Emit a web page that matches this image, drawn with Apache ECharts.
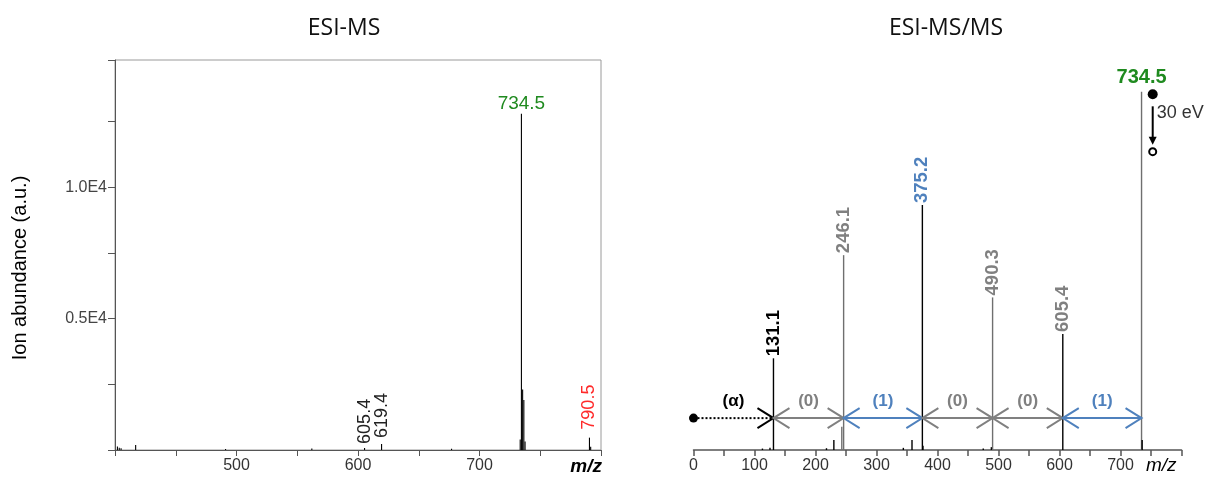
<!DOCTYPE html>
<html>
<head>
<meta charset="utf-8">
<script src="https://cdn.jsdelivr.net/npm/echarts@6/dist/echarts.min.js"></script>
<style>
html,body{margin:0;padding:0;background:#fff;}
#chart{width:1208px;height:481px;}
</style>
</head>
<body>
<div id="chart"></div>
<script>
// ---------- DATA ----------
// ESI-MS (left)
const MS_MZ  = [402, 403.5, 405, 417, 491, 562, 605.4, 619.4, 677, 733.5, 734.5, 735.5, 736.5, 737.5, 790.5, 791.5];
const MS_INT = [130, 90, 70, 190, 40, 60, 80, 230, 50, 400, 12800, 2300, 1900, 320, 470, 120];
const MS_LABEL_MZ   = [605.4, 619.4, 734.5, 790.5];
const MS_LABEL_TEXT = ['605.4', '619.4', '734.5', '790.5'];
const MS_X_TICKS = [500, 600, 700];
const MS_Y_TICK_TEXT = {5000: '0.5E4', 10000: '1.0E4'};

// ESI-MS/MS (right), relative intensity
const MSMS_MZ  = [113, 125.4, 131.1, 218, 230.1, 243.1, 246.1, 344, 358.2, 375.2, 376.2, 475, 488.3, 490.3, 605.4, 734.5, 735.5];
const MSMS_INT = [0.4, 0.6, 25.6, 0.5, 2.8, 6.5, 54.4, 0.6, 2.8, 68.4, 1.2, 0.4, 0.8, 42.6, 32.4, 100, 2.8];
const MSMS_LABEL_MZ   = [131.1, 246.1, 375.2, 490.3, 605.4, 734.5];
const MSMS_LABEL_TEXT = ['131.1', '246.1', '375.2', '490.3', '605.4', '734.5'];

// Mass-difference arrows between fragment peaks
const ARROW_FROM  = [0, 131.1, 246.1, 375.2, 490.3, 605.4];
const ARROW_TO    = [131.1, 246.1, 375.2, 490.3, 605.4, 734.5];
const ARROW_TEXT  = ['(α)', '(0)', '(1)', '(0)', '(0)', '(1)'];
const ARROW_LEVEL = 8.9;

// Precursor activation marker (m/z, level start, level end)
const ACT_MZ = [752.8];
const ACT_LEVEL = [99.3, 83.3];
const ACT_TEXT = '30 eV';

// ---------- STYLE ----------
const FONT = 'Liberation Sans, Arial, sans-serif';
const GREEN = '#1f8a1f', RED = '#ff2a2a', BLUE = '#4f81bd', GRAY = '#808080';
const MS_LABEL_STYLE = [
  {color: '#222', rotate: true, size: 18, weight: 'normal', gap: 4},
  {color: '#222', rotate: true, size: 18, weight: 'normal', gap: 6},
  {color: GREEN, rotate: false, size: 19, weight: 'normal', gap: 1},
  {color: RED, rotate: true, size: 18, weight: 'normal', gap: 8}
];
const MSMS_LABEL_COLOR = ['#000', GRAY, BLUE, GRAY, GRAY, GREEN];
const MSMS_LINE_GRAY = [246.1, 490.3, 734.5, 243.1];
const ARROW_COLOR = ['#000', GRAY, BLUE, GRAY, GRAY, BLUE];

const chart = echarts.init(document.getElementById('chart'), null, {renderer: 'canvas'});

function stickItem(colorFn, width) {
  return function (params, api) {
    const m = api.value(0), v = api.value(1);
    const p0 = api.coord([m, 0]);
    const p1 = api.coord([m, v]);
    return {type: 'line', shape: {x1: p0[0], y1: p0[1], x2: p1[0], y2: p1[1]},
            style: {stroke: colorFn(m), lineWidth: width}};
  };
}

const msLabelData = MS_LABEL_MZ.map((m, i) => [m, MS_INT[MS_MZ.indexOf(m)], i]);
const msmsLabelData = MSMS_LABEL_MZ.map((m, i) => [m, MSMS_INT[MSMS_MZ.indexOf(m)], i]);
const arrowData = ARROW_FROM.map((f, i) => [f, ARROW_LEVEL, ARROW_TO[i], i]);

function chevron(x, y, dir, color) {
  const L = 16, H = 10;
  return {type: 'polyline', shape: {points: [[x - dir * L, y - H], [x, y], [x - dir * L, y + H]]},
          style: {stroke: color, lineWidth: 2, fill: null}};
}

const option = {
  animation: false,
  backgroundColor: '#fff',
  grid: [
    {left: 115, right: 607, top: 60, bottom: 31, show: true, borderColor: '#9a9a9a', borderWidth: 1, outerBoundsMode: 'none'},
    {left: 693.5, width: 488, top: 56, bottom: 31, outerBoundsMode: 'none'}
  ],
  xAxis: [
    {type: 'value', gridIndex: 0, min: 400, max: 800, interval: 50,
     axisLine: {lineStyle: {color: '#555', width: 1}},
     axisTick: {show: true, length: 6, lineStyle: {color: '#555'}},
     splitLine: {show: false},
     axisLabel: {color: '#333', fontSize: 16, fontFamily: FONT, margin: 8,
       formatter: v => (MS_X_TICKS.indexOf(v) >= 0 ? String(v) : '')}},
    {type: 'value', gridIndex: 1, min: 0, max: 800, interval: 50,
     axisLine: {lineStyle: {color: '#555', width: 1.5}},
     axisTick: {show: true, length: 6, lineStyle: {color: '#555', width: 1.5}},
     splitLine: {show: false},
     axisLabel: {color: '#333', fontSize: 16, fontFamily: FONT, margin: 8,
       formatter: v => (v % 100 === 0 && v < 800 ? String(v) : '')}}
  ],
  yAxis: [
    {type: 'value', gridIndex: 0, min: 0, max: 14850, interval: 2500,
     axisLine: {show: true, lineStyle: {color: '#555', width: 1}},
     axisTick: {show: true, length: 7, lineStyle: {color: '#555'}},
     splitLine: {show: false},
     axisLabel: {color: '#444', fontSize: 16, fontFamily: FONT, margin: 8,
       formatter: v => MS_Y_TICK_TEXT[v] || ''}},
    {type: 'value', gridIndex: 1, min: 0, max: 110, show: false, splitLine: {show: false}}
  ],
  graphic: [
    {type: 'text', x: 344, y: 28, style: {text: 'ESI-MS', font: '23px "Open Sans", sans-serif', fill: '#111', align: 'center', verticalAlign: 'middle'}},
    {type: 'text', x: 946, y: 28, style: {text: 'ESI-MS/MS', font: '23px "Open Sans", sans-serif', fill: '#111', align: 'center', verticalAlign: 'middle'}},
    {type: 'text', x: 20, y: 268, rotation: Math.PI / 2, style: {text: 'Ion abundance (a.u.)', font: '20px ' + FONT, fill: '#000', align: 'center', verticalAlign: 'middle'}},
    {type: 'text', x: 602, y: 467, style: {text: 'm/z', font: 'italic bold 19px ' + FONT, fill: '#000', align: 'right', verticalAlign: 'middle'}},
    {type: 'text', x: 1146, y: 466, style: {text: 'm/z', font: 'italic 19px ' + FONT, fill: '#000', align: 'left', verticalAlign: 'middle'}}
  ],
  series: [
    // Left spectrum
    {type: 'custom', xAxisIndex: 0, yAxisIndex: 0, clip: true,
     data: MS_MZ.map((m, i) => [m, MS_INT[i]]),
     renderItem: stickItem(() => '#000', 1.1)},
    {type: 'custom', xAxisIndex: 0, yAxisIndex: 0,
     data: msLabelData,
     renderItem: function (params, api) {
       const m = api.value(0), v = api.value(1), i = api.value(2);
       const p = api.coord([m, v]);
       const st = MS_LABEL_STYLE[i];
       const font = st.weight + ' ' + st.size + 'px ' + FONT;
       if (st.rotate) {
         return {type: 'text', x: p[0], y: p[1] - st.gap, rotation: Math.PI / 2,
                 style: {text: MS_LABEL_TEXT[i], fill: st.color, font: font, align: 'left', verticalAlign: 'middle'}};
       }
       return {type: 'text', x: p[0], y: p[1] - st.gap,
               style: {text: MS_LABEL_TEXT[i], fill: st.color, font: font, align: 'center', verticalAlign: 'bottom'}};
     }},
    // Right spectrum
    {type: 'custom', xAxisIndex: 1, yAxisIndex: 1,
     data: MSMS_MZ.map((m, i) => [m, MSMS_INT[i]]),
     renderItem: stickItem(m => (MSMS_LINE_GRAY.indexOf(m) >= 0 ? '#6f6f6f' : '#000'), 1.4)},
    {type: 'custom', xAxisIndex: 1, yAxisIndex: 1,
     data: msmsLabelData,
     renderItem: function (params, api) {
       const m = api.value(0), v = api.value(1), i = api.value(2);
       const p = api.coord([m, v]);
       if (i === MSMS_LABEL_TEXT.length - 1) {
         return {type: 'text', x: p[0], y: p[1] - 4,
                 style: {text: MSMS_LABEL_TEXT[i], fill: MSMS_LABEL_COLOR[i], font: 'bold 20px ' + FONT, align: 'center', verticalAlign: 'bottom'}};
       }
       return {type: 'text', x: p[0], y: p[1] - 2, rotation: Math.PI / 2,
               style: {text: MSMS_LABEL_TEXT[i], fill: MSMS_LABEL_COLOR[i], font: 'bold 18.5px ' + FONT, align: 'left', verticalAlign: 'middle'}};
     }},
    // Arrows
    {type: 'custom', xAxisIndex: 1, yAxisIndex: 1,
     data: arrowData,
     renderItem: function (params, api) {
       const f = api.value(0), lvl = api.value(1), t = api.value(2), i = api.value(3);
       const a = api.coord([f, lvl]);
       const b = api.coord([t, lvl]);
       const c = ARROW_COLOR[i];
       const children = [];
       if (i === 0) {
         children.push({type: 'line', shape: {x1: a[0], y1: a[1], x2: b[0] - 2, y2: b[1]},
                        style: {stroke: c, lineWidth: 2, lineDash: [2, 2]}});
         children.push({type: 'circle', shape: {cx: a[0], cy: a[1], r: 4.5}, style: {fill: '#000'}});
         children.push(chevron(b[0], b[1], 1, c));
       } else {
         children.push({type: 'line', shape: {x1: a[0], y1: a[1], x2: b[0], y2: b[1]},
                        style: {stroke: c, lineWidth: 2}});
         children.push(chevron(a[0], a[1], -1, c));
         children.push(chevron(b[0], b[1], 1, c));
       }
       children.push({type: 'text', x: (a[0] + b[0]) / 2, y: a[1] - 17,
                      style: {text: ARROW_TEXT[i], fill: c, font: 'bold 17px ' + FONT, align: 'center', verticalAlign: 'middle'}});
       return {type: 'group', children: children};
     }},
    // Activation marker
    {type: 'custom', xAxisIndex: 1, yAxisIndex: 1,
     data: [[ACT_MZ[0], ACT_LEVEL[0], ACT_LEVEL[1]]],
     renderItem: function (params, api) {
       const m = api.value(0);
       const top = api.coord([m, api.value(1)]);
       const bot = api.coord([m, api.value(2)]);
       const x = top[0];
       return {type: 'group', children: [
         {type: 'circle', shape: {cx: x, cy: top[1], r: 5}, style: {fill: '#000'}},
         {type: 'line', shape: {x1: x, y1: top[1] + 12, x2: x, y2: bot[1] - 12}, style: {stroke: '#000', lineWidth: 2}},
         {type: 'polygon', shape: {points: [[x - 4, bot[1] - 15], [x + 4, bot[1] - 15], [x, bot[1] - 7]]}, style: {fill: '#000'}},
         {type: 'circle', shape: {cx: x, cy: bot[1], r: 3.5}, style: {fill: '#fff', stroke: '#000', lineWidth: 2}},
         {type: 'text', x: x + 4, y: top[1] + 19, style: {text: ACT_TEXT, fill: '#333', font: '18px ' + FONT, align: 'left', verticalAlign: 'middle'}}
       ]};
     }}
  ]
};
chart.setOption(option);
</script>
</body>
</html>
